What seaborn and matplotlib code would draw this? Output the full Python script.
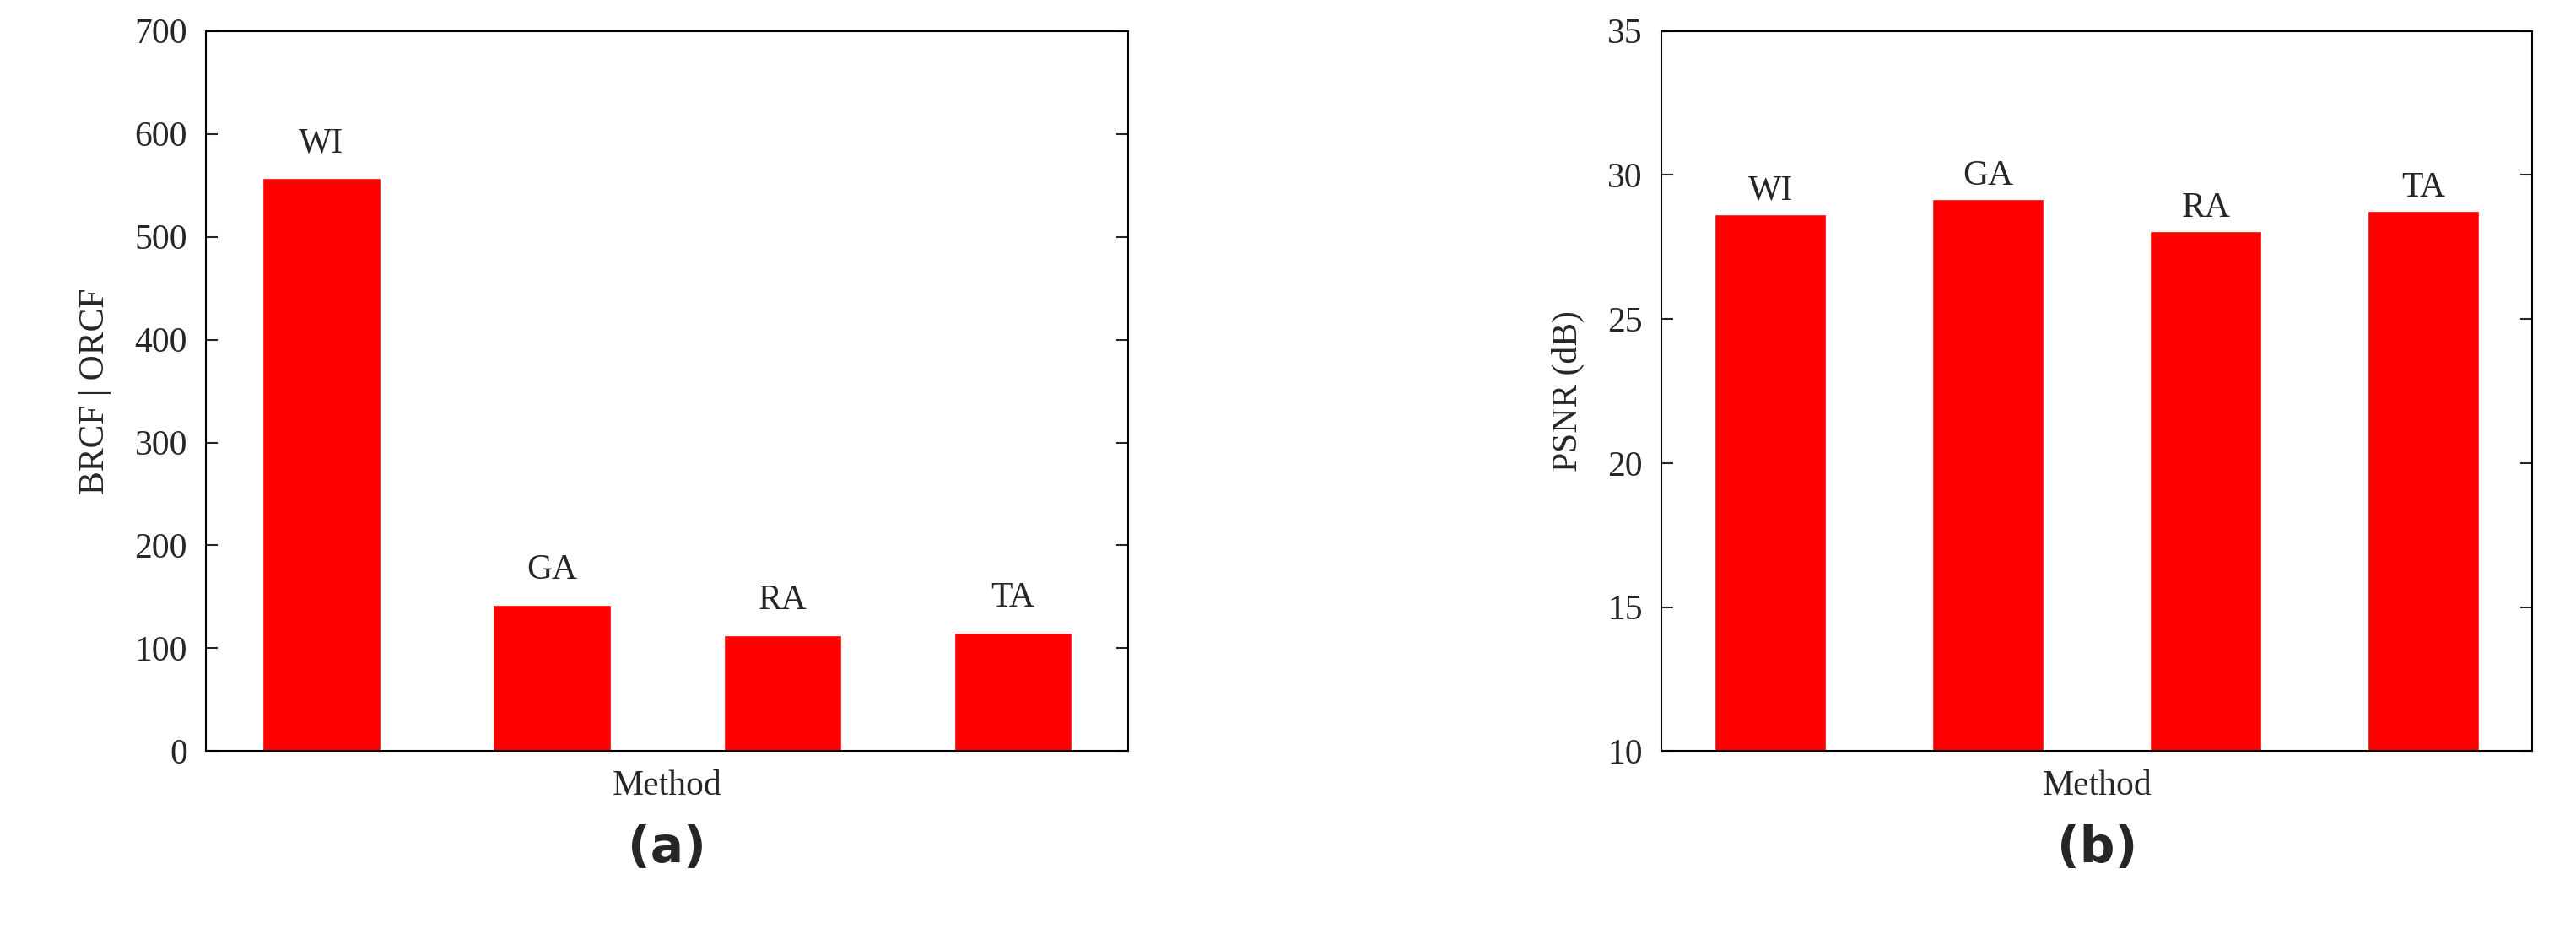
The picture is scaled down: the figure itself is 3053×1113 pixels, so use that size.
import matplotlib
matplotlib.use("Agg")
import pandas as pd
import seaborn as sns
import matplotlib.pyplot as plt

methods = ["WI", "GA", "RA", "TA"]
ratio_values = [557, 142, 113, 115]
psnr_values = [28.65, 29.15, 28.05, 28.75]

sns.set_theme(style="ticks")
plt.rcParams["font.family"] = ["Liberation Serif", "DejaVu Serif"]

fig = plt.figure(figsize=(30.53, 11.13), dpi=100)
ax1 = fig.add_axes([0.080, 0.200, 0.358, 0.767])
ax2 = fig.add_axes([0.645, 0.200, 0.338, 0.767])


def draw_panel(ax, values, ylim, yticks, ylabel, offset, tag):
    df = pd.DataFrame({"Method": methods, "value": values})
    sns.barplot(data=df, x="Method", y="value", color="#ff0000", saturation=1,
                width=0.51, ax=ax)
    for p, lab in zip(ax.patches, methods):
        ax.text(p.get_x() + p.get_width() / 2, p.get_height() + offset, lab,
                ha="center", va="bottom", fontsize=30)
    ax.set_xlim(-0.5, 3.5)
    ax.set_ylim(*ylim)
    ax.set_yticks(yticks)
    ax.set_xticks([])
    ax.set_xlabel("Method", fontsize=30, labelpad=16)
    ax.set_ylabel(ylabel, fontsize=30, labelpad=20)
    ax.tick_params(axis="y", direction="in", right=True, length=10, width=1.5,
                   labelsize=30, pad=16)
    for s in ax.spines.values():
        s.set_visible(True)
        s.set_linewidth(1.5)
        s.set_color("black")
    ax.text(0.5, -0.135, tag, transform=ax.transAxes, ha="center", va="center",
            fontsize=42, family=["DejaVu Sans"], fontweight="bold")


draw_panel(ax1, ratio_values, (0, 700), range(0, 701, 100), "BRCF | ORCF", 18, "(a)")
draw_panel(ax2, psnr_values, (10, 35), range(10, 36, 5), "PSNR (dB)", 0.25, "(b)")

fig.savefig("out.png", dpi=100, facecolor="white")
